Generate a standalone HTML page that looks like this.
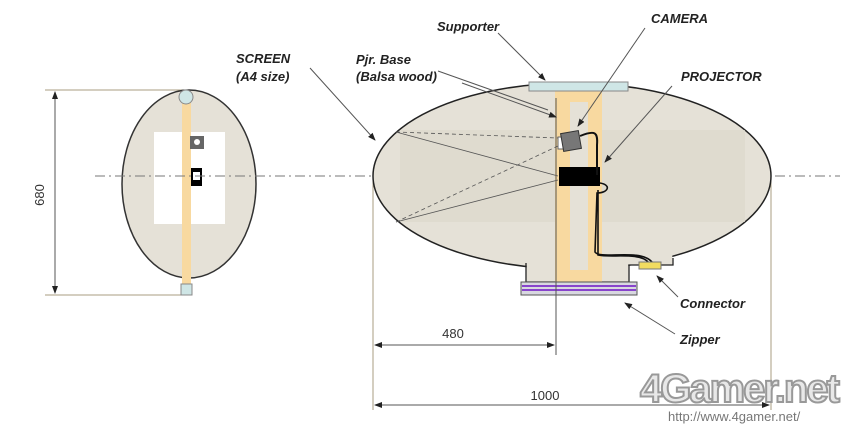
<!DOCTYPE html>
<html><head><meta charset="utf-8"><style>
body{margin:0;background:#fff;width:863px;height:431px;overflow:hidden}
svg{display:block}
.l{font-family:"Liberation Sans",sans-serif;font-weight:bold;font-style:italic;font-size:13px;fill:#222}
.d{font-family:"Liberation Sans",sans-serif;font-size:13px;fill:#333}
</style></head><body>
<svg width="863" height="431" viewBox="0 0 863 431">
<defs><marker id="a" markerWidth="8" markerHeight="8" refX="7" refY="4" orient="auto-start-reverse"><path d="M0,1 L8,4 L0,7Z" fill="#222"/></marker></defs>
<line x1="45" y1="90" x2="185" y2="90" stroke="#a89c80"/>
<line x1="45" y1="295" x2="185" y2="295" stroke="#a89c80"/>
<line x1="55" y1="92" x2="55" y2="293" stroke="#555" marker-start="url(#a)" marker-end="url(#a)"/>
<text class="d" transform="translate(44,195) rotate(-90)" text-anchor="middle">680</text>
<ellipse cx="189" cy="184" rx="67" ry="94" fill="#e5e1d7" stroke="#333" stroke-width="1.5"/>
<rect x="154" y="132" width="71" height="92" fill="#fff"/>
<rect x="182" y="98" width="9" height="190" fill="#f8d9a0"/>
<circle cx="186" cy="97" r="7" fill="#cfe6e6" stroke="#888"/>
<rect x="181" y="284" width="11" height="11" fill="#cfe6e6" stroke="#888"/>
<rect x="190" y="136" width="14" height="13" fill="#666"/><circle cx="197" cy="142" r="3" fill="#fff"/>
<rect x="191" y="168" width="11" height="18" fill="#000"/><rect x="193" y="172" width="7" height="8" fill="#fff"/>
<line x1="95" y1="176" x2="840" y2="176" stroke="#777" stroke-dasharray="10,4,2,4"/>
<line x1="373" y1="180" x2="373" y2="410" stroke="#a89c80"/>
<line x1="771" y1="176" x2="771" y2="410" stroke="#a89c80"/>
<ellipse cx="572" cy="176" rx="199" ry="93" fill="#e5e1d7" stroke="#222" stroke-width="1.5"/>
<rect x="526.7" y="255" width="101.6" height="26.5" fill="#e5e1d7"/>
<rect x="628" y="255" width="44.3" height="9.5" fill="#e5e1d7"/>
<path d="M526,263 L526,282 L629,282 L629,265 L673,265 L673,258" fill="none" stroke="#222" stroke-width="1.3"/>
<rect x="400" y="130" width="345" height="92" fill="#ddd8cc" opacity="0.7"/>
<rect x="555" y="90" width="47" height="192" fill="#f8d9a0"/>
<rect x="570" y="102" width="18" height="168" fill="#e5e1d7"/>
<rect x="529" y="82" width="99" height="9" fill="#cfe6e6" stroke="#888"/>
<rect x="521" y="282" width="116" height="13" fill="#d8d8e0" stroke="#555"/>
<line x1="522" y1="286" x2="636" y2="286" stroke="#8844cc" stroke-width="2"/>
<line x1="522" y1="290" x2="636" y2="290" stroke="#8844cc" stroke-width="2"/>
<g stroke="#555" stroke-width="0.8">
<line x1="396" y1="132" x2="558" y2="138" stroke-dasharray="4,3"/>
<line x1="396" y1="222" x2="558" y2="146" stroke-dasharray="4,3"/>
<line x1="396" y1="132" x2="558" y2="176"/>
<line x1="396" y1="222" x2="558" y2="180"/>
</g>
<rect x="558" y="137" width="6" height="12" fill="#fff" stroke="#666"/>
<rect x="562" y="132" width="18" height="18" fill="#777" stroke="#333" transform="rotate(-10 571 141)"/>
<rect x="559" y="167" width="41" height="19" fill="#000"/>
<path d="M580,136 C595,130 598,132 597,145 L597,175" fill="none" stroke="#111" stroke-width="2"/>
<path d="M600,183 C612,185 608,193 597,193 L595,252 C600,260 640,248 652,262 M598,190 L598,255 C610,258 640,252 648,262" fill="none" stroke="#111" stroke-width="1.6"/>
<rect x="639" y="262" width="22" height="7" fill="#f2dc60" stroke="#777"/>
<line x1="556" y1="98" x2="556" y2="355" stroke="#555"/>
<line x1="375" y1="345" x2="554" y2="345" stroke="#555" marker-start="url(#a)" marker-end="url(#a)"/>
<text class="d" x="453" y="338" text-anchor="middle">480</text>
<line x1="375" y1="405" x2="769" y2="405" stroke="#555" marker-start="url(#a)" marker-end="url(#a)"/>
<text class="d" x="545" y="400" text-anchor="middle">1000</text>
<g stroke="#555" stroke-width="1">
<line x1="498" y1="33" x2="545" y2="80" marker-end="url(#a)"/>
<line x1="645" y1="28" x2="578" y2="126" marker-end="url(#a)"/>
<line x1="462" y1="83" x2="556" y2="117" marker-end="url(#a)"/>
<line x1="438" y1="71" x2="548" y2="110"/>
<line x1="310" y1="68" x2="375" y2="140" marker-end="url(#a)"/>
<line x1="672" y1="86" x2="605" y2="162" marker-end="url(#a)"/>
<line x1="678" y1="297" x2="657" y2="276" marker-end="url(#a)"/>
<line x1="675" y1="334" x2="625" y2="303" marker-end="url(#a)"/>
</g>
<text class="l" x="437" y="31">Supporter</text>
<text class="l" x="651" y="23">CAMERA</text>
<text class="l" x="681" y="81">PROJECTOR</text>
<text class="l" x="236" y="63">SCREEN</text>
<text class="l" x="236" y="81">(A4 size)</text>
<text class="l" x="356" y="64">Pjr. Base</text>
<text class="l" x="356" y="81">(Balsa wood)</text>
<text class="l" x="680" y="308">Connector</text>
<text class="l" x="680" y="344">Zipper</text>
<text x="640" y="402" font-family="Liberation Sans,sans-serif" font-weight="bold" font-size="40" fill="#e8e8e8" stroke="#999" stroke-width="2" letter-spacing="-2">4Gamer.net</text>
<text x="668" y="421" font-family="Liberation Sans,sans-serif" font-size="13" fill="#777">http://www.4gamer.net/</text>
</svg>
</body></html>
